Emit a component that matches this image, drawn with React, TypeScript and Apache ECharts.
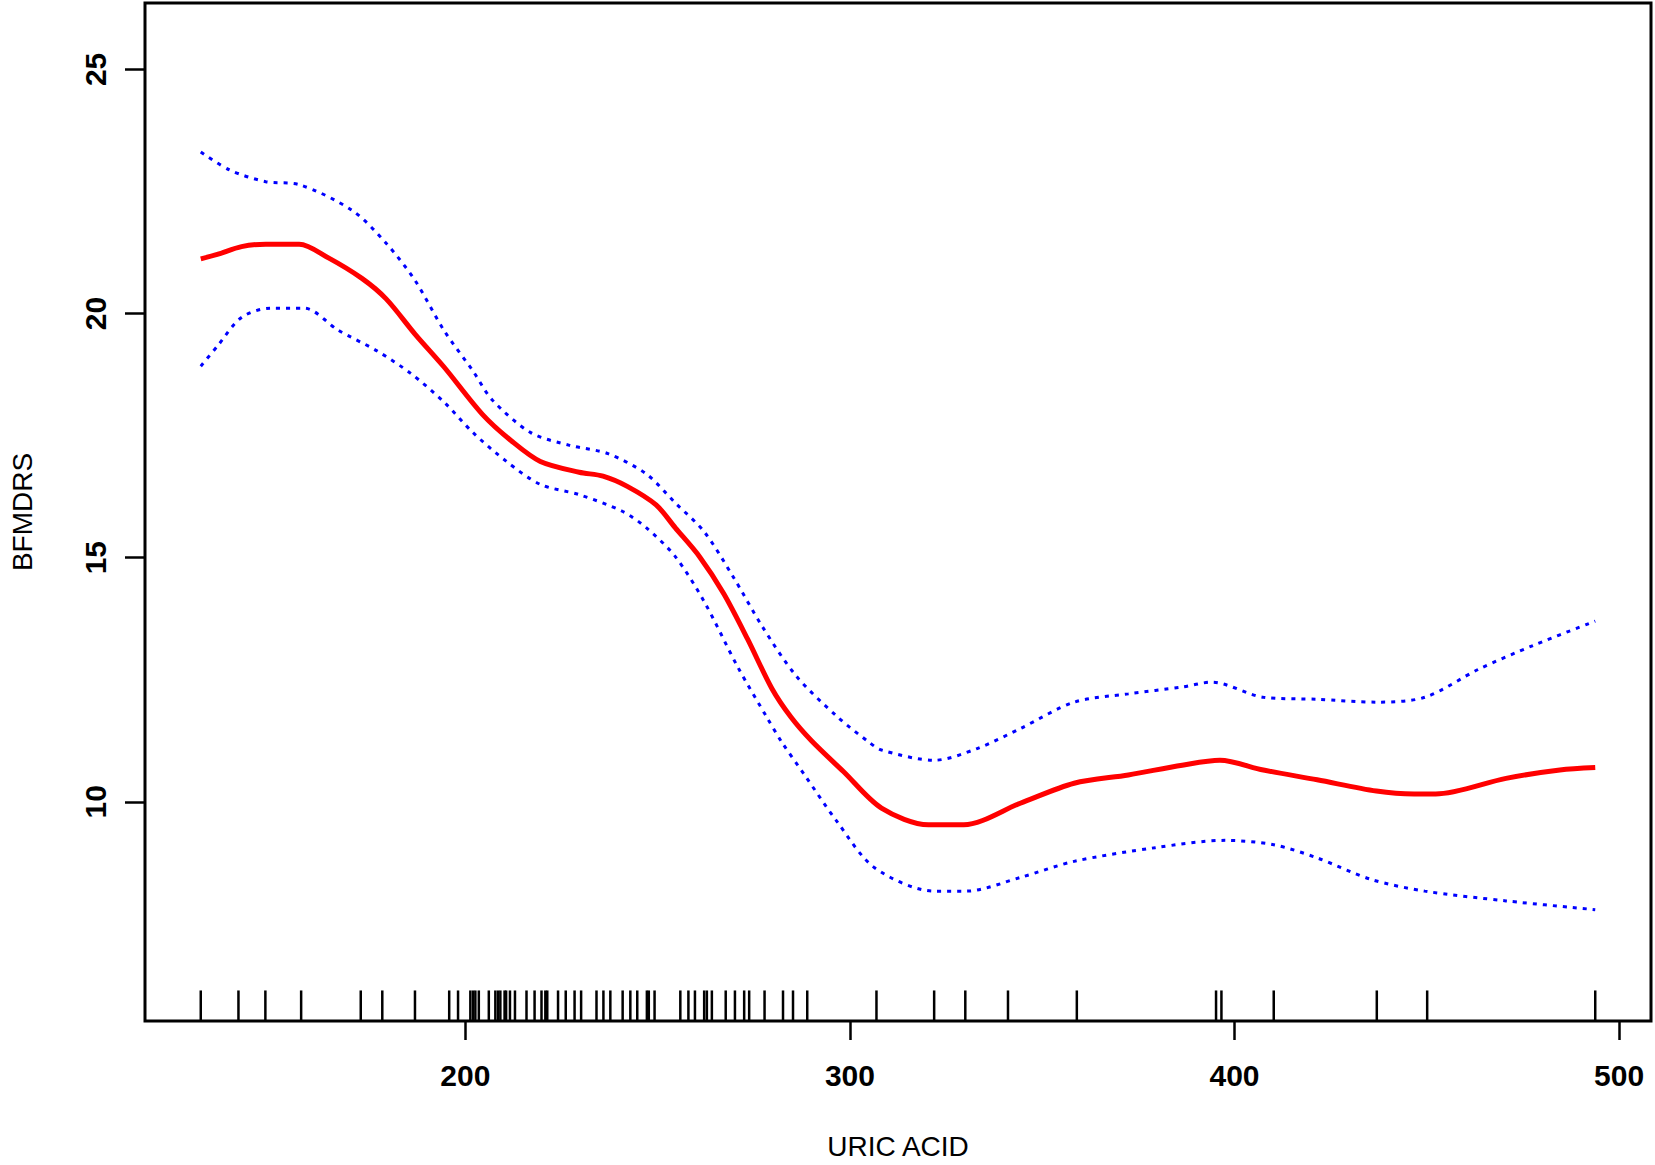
import React, { useEffect, useRef } from "react";
import * as echarts from "echarts";

// Axis ranges (R default 4% extension around data)
const X_MIN = 116.7;
const X_MAX = 508.3;
const Y_MIN = 5.51;
const Y_MAX = 26.36;

const xTicks = [200, 300, 400, 500];
const yTicks = [10, 15, 20, 25];

// Fitted smooth curve (red)
const fitX = [131.2, 135.5, 141.8, 148.1, 156.8, 164.4, 173.1, 179.4, 186.9, 194.4, 204.5, 212.0, 219.5, 229.6, 235.8, 242.1, 249.6, 254.6, 260.9, 267.2, 273.4, 279.7, 284.7, 290.0, 298.3, 308.2, 320.4, 329.6, 344.3, 358.3, 372.4, 386.4, 396.2, 407.5, 421.5, 436.9, 446.7, 452.3, 470.6, 484.6, 493.8];
const fitY = [21.12, 21.21, 21.37, 21.42, 21.42, 21.14, 20.72, 20.30, 19.58, 18.91, 17.93, 17.39, 16.97, 16.75, 16.67, 16.46, 16.08, 15.61, 15.02, 14.26, 13.33, 12.32, 11.73, 11.25, 10.62, 9.87, 9.53, 9.53, 9.97, 10.38, 10.55, 10.75, 10.85, 10.65, 10.45, 10.22, 10.16, 10.16, 10.48, 10.65, 10.70];

// Upper 95% CI (blue dotted)
const upperX = [131.2, 138.7, 148.1, 156.8, 170.6, 179.4, 186.9, 194.4, 202.0, 207.0, 217.0, 227.1, 237.1, 247.1, 254.6, 262.1, 269.7, 277.2, 286.0, 296.6, 304.8, 308.2, 321.9, 333.1, 344.3, 358.3, 372.4, 386.4, 394.1, 407.5, 421.5, 436.9, 449.5, 463.6, 477.6, 493.8];
const upperY = [23.31, 22.94, 22.70, 22.64, 22.11, 21.44, 20.68, 19.66, 18.82, 18.23, 17.56, 17.30, 17.13, 16.71, 16.12, 15.53, 14.60, 13.59, 12.58, 11.75, 11.23, 11.06, 10.85, 11.09, 11.50, 12.04, 12.21, 12.35, 12.45, 12.14, 12.10, 12.04, 12.14, 12.72, 13.20, 13.70];

// Lower 95% CI (blue dotted)
const lowerX = [131.2, 135.5, 141.8, 149.3, 158.1, 166.9, 176.9, 185.7, 194.4, 202.0, 210.7, 219.5, 229.6, 240.8, 247.1, 254.6, 262.1, 270.9, 278.4, 282.2, 288.2, 296.6, 306.4, 321.9, 330.3, 344.3, 358.3, 379.4, 397.6, 410.2, 421.5, 435.5, 449.5, 470.6, 493.8];
const lowerY = [18.92, 19.33, 19.92, 20.11, 20.11, 19.66, 19.24, 18.78, 18.19, 17.56, 16.97, 16.50, 16.29, 15.95, 15.61, 15.02, 14.10, 12.75, 11.73, 11.23, 10.55, 9.60, 8.65, 8.17, 8.17, 8.45, 8.78, 9.06, 9.21, 9.12, 8.85, 8.41, 8.17, 7.97, 7.79];

// Rug: observed uric acid values
const rugValues = [131.2, 141.0, 148.0, 157.3, 172.8, 178.4, 186.9, 195.8, 198.1, 201.3, 202.0, 202.6, 203.5, 206.1, 207.8, 208.5, 209.1, 210.2, 210.6, 211.6, 212.9, 215.9, 218.0, 219.8, 220.8, 221.3, 224.1, 226.1, 228.4, 230.1, 234.1, 235.9, 237.7, 240.9, 242.9, 244.7, 247.2, 247.7, 249.2, 255.9, 258.0, 259.7, 262.1, 262.8, 264.1, 267.7, 270.1, 272.5, 273.8, 277.8, 282.6, 285.2, 288.9, 306.9, 321.9, 330.0, 341.1, 359.0, 395.2, 396.6, 410.2, 437.0, 450.1, 493.8];

const FONT = "'Liberation Sans', Arial, sans-serif";

const zip = (xs: number[], ys: number[]) => xs.map((x, i) => [x, ys[i]]);

export default function App() {
  const ref = useRef<HTMLDivElement>(null);

  useEffect(() => {
    if (!ref.current) return;
    const chart = echarts.init(ref.current, null, { renderer: "svg" });
    const option: any = {
      animation: false,
      backgroundColor: "#ffffff",
      grid: {
        left: 137,
        top: 3,
        right: 4,
        bottom: 137,
        show: true,
        borderColor: "#000000",
        borderWidth: 3,
        backgroundColor: "transparent",
        containLabel: false,
      },
      xAxis: {
        type: "value",
        min: X_MIN,
        max: X_MAX,
        name: "URIC ACID",
        nameLocation: "middle",
        nameGap: 111,
        nameTextStyle: { fontFamily: FONT, fontSize: 28, color: "#000000" },
        axisLine: { show: false },
        splitLine: { show: false },
        axisTick: {
          show: true,
          customValues: xTicks,
          length: 19,
          lineStyle: { color: "#000000", width: 2.5 },
        },
        axisLabel: {
          customValues: xTicks,
          margin: 39,
          fontFamily: FONT,
          fontSize: 30,
          fontWeight: "bold",
          color: "#000000",
        },
      },
      yAxis: {
        type: "value",
        min: Y_MIN,
        max: Y_MAX,
        name: "BFMDRS",
        nameLocation: "middle",
        nameGap: 109,
        nameTextStyle: { fontFamily: FONT, fontSize: 28, color: "#000000" },
        axisLine: { show: false },
        splitLine: { show: false },
        axisTick: {
          show: true,
          customValues: yTicks,
          length: 20,
          lineStyle: { color: "#000000", width: 2.5 },
        },
        axisLabel: {
          customValues: yTicks,
          rotate: 90,
          margin: 35,
          fontFamily: FONT,
          fontSize: 30,
          fontWeight: "bold",
          color: "#000000",
        },
      },
      series: [
        {
          type: "line",
          data: zip(upperX, upperY),
          showSymbol: false,
          smooth: 0.3,
          lineStyle: { color: "#0000ff", width: 3, type: [4, 6] },
          z: 2,
        },
        {
          type: "line",
          data: zip(lowerX, lowerY),
          showSymbol: false,
          smooth: 0.3,
          lineStyle: { color: "#0000ff", width: 3, type: [4, 6] },
          z: 2,
        },
        {
          type: "line",
          data: zip(fitX, fitY),
          showSymbol: false,
          smooth: 0.3,
          lineStyle: { color: "#ff0000", width: 5 },
          z: 3,
        },
        {
          type: "custom",
          data: rugValues.map((v) => [v, Y_MIN]),
          encode: { x: 0, y: 1 },
          renderItem: (params: any, api: any) => {
            const p = api.coord([api.value(0), Y_MIN]);
            const h = params.coordSys.height * 0.03;
            return {
              type: "line",
              shape: { x1: p[0], y1: p[1], x2: p[0], y2: p[1] - h },
              style: { stroke: "#000000", lineWidth: 2.5 },
            };
          },
          z: 1,
        },
      ],
    };
    chart.setOption(option);
    return () => chart.dispose();
  }, []);

  return (
    <div
      ref={ref}
      style={{ position: "fixed", left: 0, top: 0, width: 1655, height: 1165, background: "#ffffff" }}
    />
  );
}
